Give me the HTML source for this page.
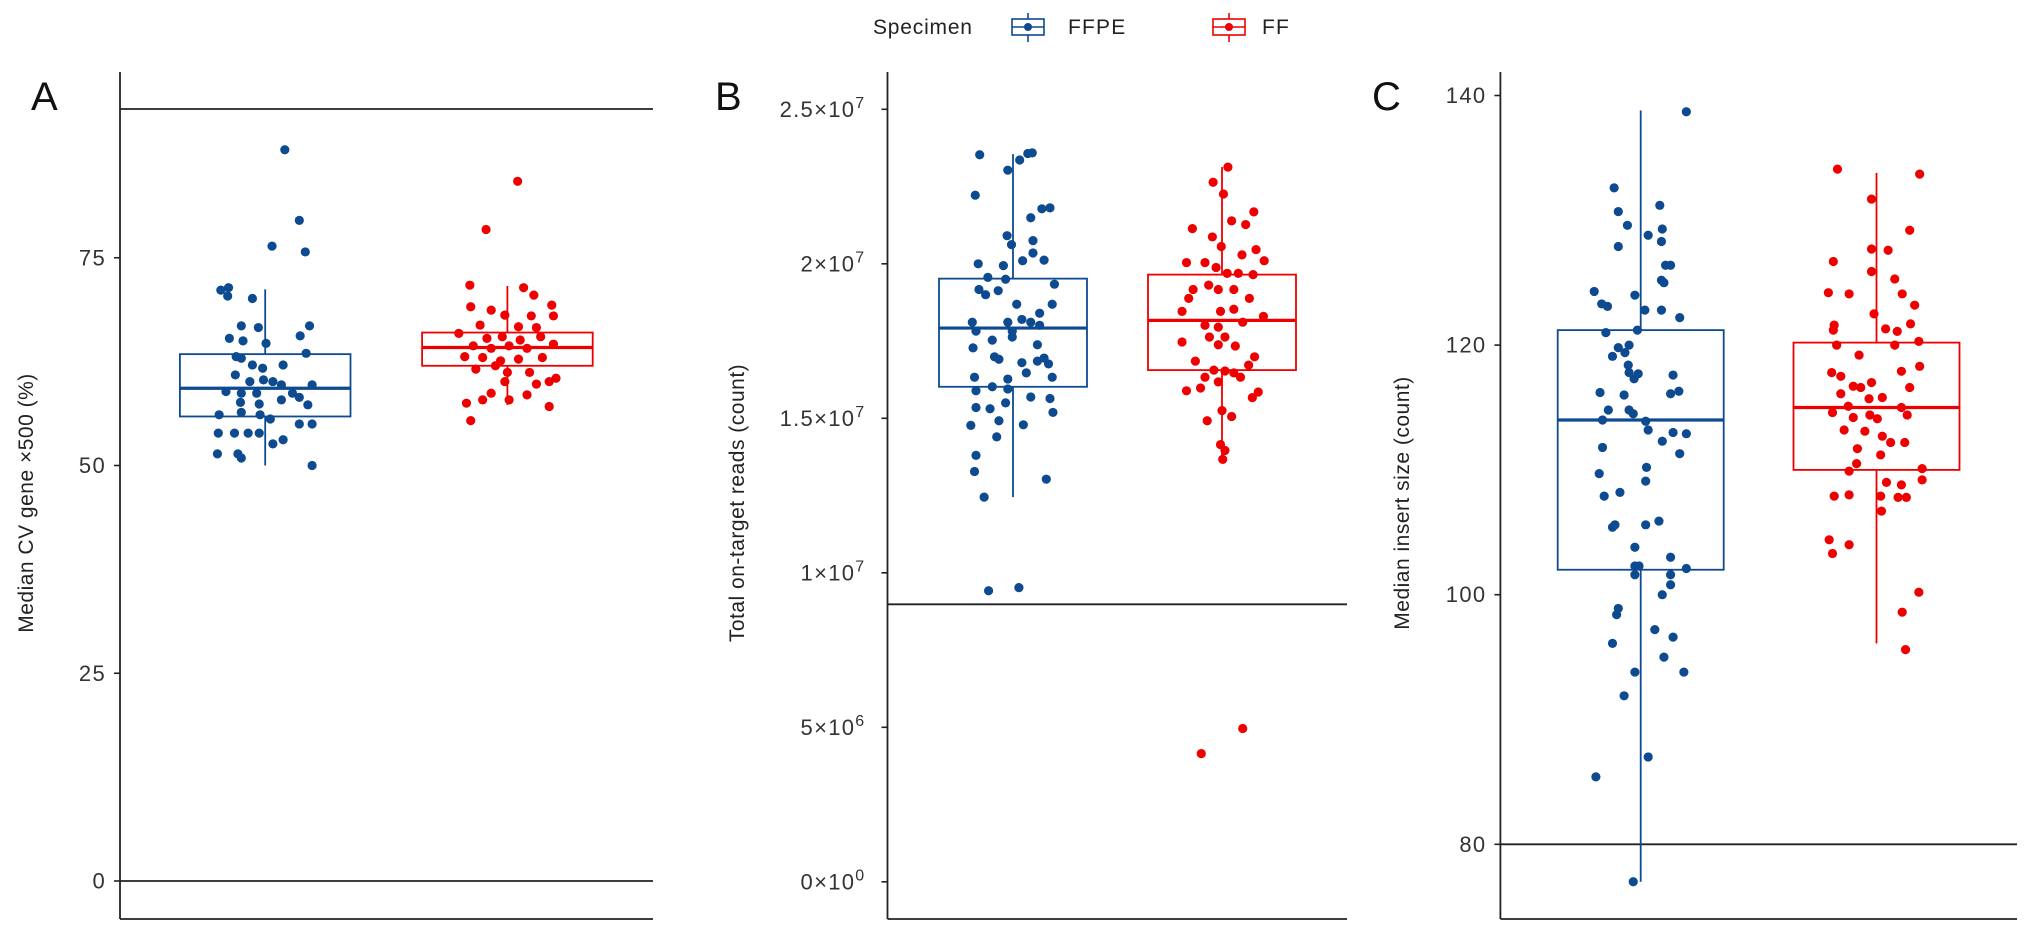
<!DOCTYPE html>
<html><head><meta charset="utf-8"><style>
html,body{margin:0;padding:0;background:#fff;}
svg{display:block;font-family:"Liberation Sans",Arial,sans-serif;}
</style></head><body>
<svg id="chart" width="2031" height="936" viewBox="0 0 2031 936" xmlns="http://www.w3.org/2000/svg"></svg>
<script>
// ---- data ----
const categories = ["FFPE", "FF"];
// Panel A: Median CV gene x500 (%)
const aFfpeVals = [88,79.5,76.4,75.7,71.1,71.4,70.4,70.1,66.8,66.6,66.8,65.6,65.3,65,64.7,63.1,62.9,63.5,62.1,61.7,62.1,60.9,60.1,60.3,60.1,59.7,59.7,58.9,58.7,58.7,58.7,58.2,57.6,57.4,57.9,57.3,56.1,56.4,56.1,55.6,55,55,53.9,53.9,53.9,53.9,52.6,53.1,51.4,51.4,50.9,50];
const aFfpeJit = [0.23,0.4,0.08,0.47,-0.52,-0.43,-0.44,-0.15,-0.28,-0.08,0.52,0.41,-0.42,-0.26,0.01,-0.34,-0.28,0.48,-0.15,-0.03,0.21,-0.35,-0.18,-0.02,0.09,0.19,0.55,-0.46,-0.28,-0.1,0.32,0.4,-0.29,-0.07,0.19,0.5,-0.54,-0.28,-0.06,0.06,0.4,0.55,-0.55,-0.36,-0.2,-0.07,0.09,0.21,-0.56,-0.32,-0.28,0.55];
const aFfVals = [84.2,78.4,71.7,71.4,70.5,69.1,68.7,69.3,68,68.1,68,66.9,66.7,66.6,65.9,65.3,65.5,65.1,65.5,64.4,64.1,64.4,64.1,64.6,63.1,63,62.6,62.8,63,61.6,62,61.2,61.2,60.1,60.1,60.5,59.8,58.7,58.5,57.9,57.9,57.5,57.1,55.4];
const aFfJit = [0.12,-0.25,-0.44,0.19,0.31,-0.43,-0.19,0.52,0.54,-0.03,0.28,-0.32,0.13,0.34,-0.57,-0.24,-0.06,0.15,0.39,-0.4,-0.19,0.02,0.23,0.54,-0.5,-0.29,-0.08,0.13,0.41,-0.37,-0.14,0,0.26,-0.03,0.49,0.57,0.34,-0.19,0.23,0.02,-0.29,-0.48,0.49,-0.43];
const aStats = [[50,55.9,59.3,63.4,71.2],[57.3,62,64.2,66,71.6]];
const aTicks = [0,25,50,75];
const aRefs = [0,92.9];
// Panel B: Total on-target reads (x1e7)
const bFfpeVals = [2.353,2.303,2.336,2.357,2.359,2.222,2.149,2.178,2.181,2.091,2.062,2.075,2.010,2.035,2.012,2.0,1.994,1.956,1.95,1.934,1.917,1.9,1.913,1.869,1.869,1.84,1.82,1.811,1.782,1.811,1.782,1.811,1.801,1.753,1.763,1.738,1.728,1.699,1.691,1.68,1.685,1.695,1.676,1.647,1.633,1.627,1.633,1.602,1.595,1.589,1.569,1.564,1.55,1.535,1.531,1.519,1.492,1.477,1.479,1.44,1.380,1.328,1.303,1.245,0.942,0.952];
const bFfpeJit = [-0.45,-0.07,0.09,0.2,0.26,-0.51,0.24,0.39,0.5,-0.08,-0.02,0.27,0.13,0.27,0.42,-0.47,-0.13,-0.34,-0.1,0.56,-0.46,-0.37,-0.2,0.05,0.53,0.36,0.12,-0.55,-0.5,-0.07,-0.01,0.24,0.36,-0.28,-0.01,0.33,-0.54,-0.25,-0.19,0.12,0.33,0.42,0.48,0.18,-0.52,-0.07,0.53,-0.28,-0.07,-0.5,0.24,0.5,-0.1,-0.5,-0.31,0.54,-0.19,-0.57,0.14,-0.22,-0.5,-0.52,0.45,-0.39,-0.33,0.08];
const bFfVals = [2.313,2.264,2.226,2.168,2.114,2.139,2.127,2.087,2.056,2.046,2.029,2.01,2.004,2.004,1.988,1.969,1.965,1.969,1.917,1.931,1.917,1.917,1.888,1.888,1.846,1.846,1.853,1.83,1.801,1.795,1.811,1.763,1.763,1.747,1.734,1.738,1.699,1.685,1.672,1.656,1.653,1.647,1.633,1.633,1.618,1.598,1.585,1.589,1.567,1.525,1.506,1.492,1.415,1.396,1.367,0.415,0.496];
const bFfJit = [0.08,-0.12,0.02,0.43,-0.4,0.13,0.32,-0.13,-0.01,0.46,0.27,0.57,-0.48,-0.23,-0.08,0.22,0.42,0.07,-0.39,-0.18,-0.05,0.16,-0.45,0.37,-0.54,-0.02,0.16,0.56,-0.23,-0.05,0.28,-0.17,0.04,-0.54,0.18,-0.05,0.44,-0.36,0.36,-0.11,0.04,0.16,-0.23,0.25,-0.05,-0.29,0.49,-0.48,0.41,0,0.13,-0.2,-0.02,0.04,0.01,-0.28,0.28];
const bStats = [[1.245,1.602,1.792,1.952,2.355],[1.357,1.656,1.817,1.965,2.313]];
const bTicks = [0,0.5,1,1.5,2,2.5];
const bTickLabels = [["0","0"],["5","6"],["1","7"],["1.5","7"],["2","7"],["2.5","7"]];
const bRefs = [0.898];
// Panel C: Median insert size
const cFfpeVals = [138.7,132.6,131.2,130.7,129.6,129.3,128.8,128.3,127.9,126.4,126.4,125.2,125,124.3,123.3,123.1,124,122.8,122.8,122.2,121,121.2,119.8,120,119.4,119.1,118.4,117.8,117.3,117.7,117.6,116.2,116,116.1,116.3,114.8,114.8,114.5,114,113.9,113.2,113,112.9,112.3,111.8,111.3,110.2,109.7,109.1,107.9,108.2,105.4,105.6,105.6,105.9,103.8,103,102.3,102.3,102.1,101.6,101.6,100.8,100,98.9,98.4,97.2,96.6,96.1,95,93.8,93.8,91.9,87,85.4,77];
const cFfpeJit = [0.55,-0.32,0.23,-0.27,-0.16,0.26,0.09,0.25,-0.27,0.3,0.36,0.25,0.28,-0.56,-0.47,-0.4,-0.07,0.05,0.25,0.47,-0.42,-0.04,-0.27,-0.14,-0.19,-0.34,-0.15,-0.14,-0.08,-0.03,0.39,-0.49,-0.2,0.36,0.46,-0.39,-0.14,-0.09,-0.46,0.06,0.09,0.39,0.55,0.26,-0.46,0.47,0.07,-0.5,0.06,-0.44,-0.25,-0.34,-0.31,0.06,0.22,-0.07,0.36,-0.07,-0.02,0.55,0.36,-0.07,0.36,0.26,-0.27,-0.29,0.17,0.39,-0.34,0.28,-0.07,0.52,-0.2,0.09,-0.54,-0.09];
const cFfVals = [134.1,133.7,131.7,129.2,127.7,127.6,126.7,125.9,125.3,124.2,124.1,124.1,123.2,122.5,121.6,121.3,121.1,121.7,121.2,120,120,120.3,119.2,118.3,117.9,117.8,117.5,117,116.7,116.6,116.6,116.1,115.7,115.8,115.1,115,114.6,114.4,114.1,114.4,114.2,113.2,113.1,112.7,112.2,112.2,111.7,111.2,110.5,109.9,110.1,109.2,109,108.8,107.9,108,107.9,107.8,107.8,106.7,104.4,103.3,104,100.2,98.6,95.6];
const cFfJit = [-0.47,0.52,-0.06,0.4,-0.06,0.14,-0.52,-0.06,0.22,-0.58,-0.33,0.31,0.46,-0.03,-0.51,0.11,0.25,0.41,-0.52,-0.48,0.22,0.51,-0.21,0.52,0.3,-0.54,-0.43,-0.06,-0.28,-0.19,0.4,-0.43,-0.09,0.07,-0.34,0.3,-0.53,-0.08,0.01,0.37,-0.28,-0.39,-0.14,0.07,0.17,0.34,-0.23,0.05,-0.24,-0.33,0.55,0.55,0.12,0.3,-0.51,-0.33,0.05,0.26,0.36,0.06,-0.57,-0.53,-0.33,0.51,0.31,0.35];
const cStats = [[77,102,114,121.2,138.8],[96.1,110,115,120.2,133.8]];
const cTicks = [80,100,120,140];
const cRefs = [80];

// ---- drawing ----
const NS = "http://www.w3.org/2000/svg";
const svg = document.getElementById("chart");
const BLUE = "#0d4a8f", RED = "#ee0000";
function mk(tag, attrs, parent) {
  const e = document.createElementNS(NS, tag);
  for (const k in attrs) e.setAttribute(k, attrs[k]);
  (parent || svg).appendChild(e);
  return e;
}
const panels = [
  {letter:"A", title:"Median CV gene \u00d7500 (%)", axisX:120, right:653, top:72, bottom:919,
   yScale:v=>881-v*8.31, centers:[265.2,507.4], hw:85.3, ticks:aTicks, tickLabels:null, refs:aRefs,
   vals:[aFfpeVals,aFfVals], jit:[aFfpeJit,aFfJit], stats:aStats, letterX:31, titleX:26},
  {letter:"B", title:"Total on-target reads (count)", axisX:887.5, right:1347, top:72, bottom:919,
   yScale:v=>881.8-v*309, centers:[1013,1222], hw:74, ticks:bTicks, tickLabels:bTickLabels, refs:bRefs,
   vals:[bFfpeVals,bFfVals], jit:[bFfpeJit,bFfJit], stats:bStats, letterX:715, titleX:737},
  {letter:"C", title:"Median insert size (count)", axisX:1500.4, right:2017, top:72, bottom:919,
   yScale:v=>95.5+(140-v)*12.48, centers:[1640.7,1876.5], hw:83, ticks:cTicks, tickLabels:null, refs:cRefs,
   vals:[cFfpeVals,cFfVals], jit:[cFfpeJit,cFfJit], stats:cStats, letterX:1372, titleX:1402}
];
panels.forEach((p, pi) => {
  const g = mk("g", {});
  
  
  p.refs.forEach(r => {
    const l = mk("line", {x1:p.axisX, x2:p.right, y1:p.yScale(r), y2:p.yScale(r), stroke:"#222", "stroke-width":1.8}, g);
    
    
  });
  const ya = mk("line", {x1:p.axisX, x2:p.axisX, y1:p.top, y2:p.bottom, stroke:"#222", "stroke-width":1.8}, g);
  
  
  const xa = mk("line", {x1:p.axisX, x2:p.right, y1:p.bottom, y2:p.bottom, stroke:"#222", "stroke-width":1.8}, g);
  
  
  p.ticks.forEach((t, i) => {
    const y = p.yScale(t);
    mk("line", {x1:p.axisX-6, x2:p.axisX, y1:y, y2:y, stroke:"#222", "stroke-width":1.6}, g);
    const tx = mk("text", {x:p.axisX-14, y:y+7.5, "text-anchor":"end", "font-size":22, "letter-spacing":1.3, fill:"#333"}, g);
    
    
    if (p.tickLabels) {
      const lb = p.tickLabels[i];
      tx.setAttribute("x", p.axisX - 22);
      tx.textContent = lb[0] + "\u00d710";
      const sp = mk("tspan", {"font-size":16, dy:-9}, tx);
      sp.textContent = lb[1];
    } else tx.textContent = String(t);
  });
  const lt = mk("text", {x:p.letterX, y:110, "font-size":40, fill:"#111"}, g);
  
  
  lt.textContent = p.letter;
  const yt = mk("text", {x:p.titleX, y:496, "font-size":21, "letter-spacing":0.5, fill:"#222", "text-anchor":"middle",
    transform:"rotate(-90 "+(p.titleX+7)+" 496)"}, g);
  
  
  yt.textContent = p.title;
  categories.forEach((c, ci) => {
    const col = ci === 0 ? BLUE : RED;
    const cx = p.centers[ci], s = p.stats[ci];
    const bg = mk("g", {}, g);
    
    
    mk("line", {x1:cx, x2:cx, y1:p.yScale(s[4]), y2:p.yScale(s[3]), stroke:col, "stroke-width":1.8}, bg);
    mk("line", {x1:cx, x2:cx, y1:p.yScale(s[1]), y2:p.yScale(s[0]), stroke:col, "stroke-width":1.8}, bg);
    mk("rect", {x:cx-p.hw, y:p.yScale(s[3]), width:2*p.hw, height:p.yScale(s[1])-p.yScale(s[3]), fill:"none", stroke:col, "stroke-width":1.8}, bg);
    mk("line", {x1:cx-p.hw, x2:cx+p.hw, y1:p.yScale(s[2]), y2:p.yScale(s[2]), stroke:col, "stroke-width":3.2}, bg);
    const vals = p.vals[ci], jit = p.jit[ci];
    vals.forEach((v, k) => {
      const pt = mk("circle", {cx:cx + jit[k]*p.hw, cy:p.yScale(v), r:4.6, fill:col}, g);
      
      
    });
  });
});
const lg = mk("g", {});


const lt0 = mk("text", {x:873, y:34, "font-size":21, "letter-spacing":0.8, fill:"#222"}, lg);


lt0.textContent = "Specimen";
[[1012, BLUE, "FFPE", 1068],[1213, RED, "FF", 1262]].forEach(e => {
  const eg = mk("g", {}, lg);
  
  
  mk("line", {x1:e[0]+16, x2:e[0]+16, y1:13, y2:42, stroke:e[1], "stroke-width":1.6}, eg);
  mk("rect", {x:e[0], y:19, width:32, height:16, fill:"#fff", stroke:e[1], "stroke-width":1.6}, eg);
  mk("line", {x1:e[0], x2:e[0]+32, y1:27, y2:27, stroke:e[1], "stroke-width":1.6}, eg);
  mk("circle", {cx:e[0]+16, cy:27, r:4, fill:e[1]}, eg);
  const t = mk("text", {x:e[3], y:34, "font-size":21, "letter-spacing":1.2, fill:"#222"}, eg);
  t.textContent = e[2];
});
</script>
</body></html>
